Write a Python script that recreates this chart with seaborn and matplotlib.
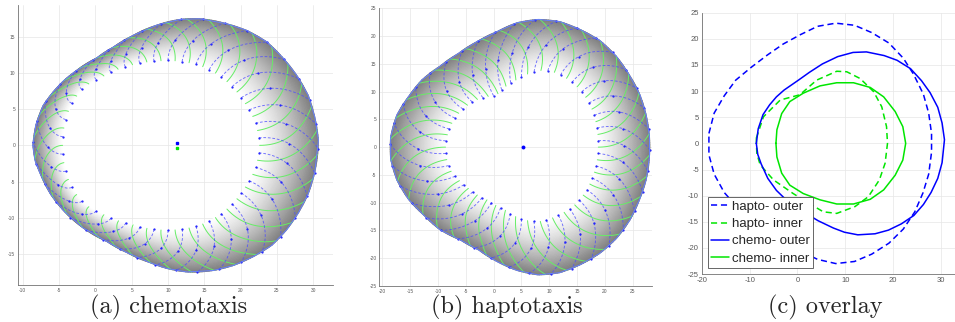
import numpy as np
import matplotlib
matplotlib.use("Agg")
import matplotlib.pyplot as plt
import seaborn as sns

# boundary curves (plot units)
chemo_outer_x = [-8.6, -8.2, -7.2, -5.8, -4.4, -2.8, 0.2, 2.5, 5.2, 8.4, 11.6, 14.4, 18.1, 20.8, 23.6,
                 25.9, 27.7, 29.3, 30.2, 30.7, 30.2, 29.3, 27.9, 26.3, 24.3, 21.7, 19.0, 16.2, 12.6,
                 9.8, 7.5, 4.3, 1.6, -1.7, -4.4, -6.2, -7.6, -8.3]
chemo_outer_y = [0.0, 2.8, 5.5, 7.4, 8.9, 10.2, 12.1, 13.6, 15.2, 16.6, 17.4, 17.5, 16.8, 15.9, 14.3,
                 12.0, 9.7, 6.9, 3.9, 0.7, -3.7, -6.7, -9.4, -11.7, -13.8, -15.4, -16.6, -17.3, -17.5,
                 -17.0, -16.2, -14.8, -13.3, -11.4, -9.0, -6.7, -3.9, -2.1]

chemo_inner_x = [-4.5, -4.3, -3.3, -1.6, 1.2, 4.7, 8.2, 11.7, 15.2, 18.0, 20.4, 22.0, 22.6, 22.0,
                 20.4, 18.0, 15.2, 11.7, 8.2, 4.7, 1.2, -1.6, -3.3, -4.3]
chemo_inner_y = [0.0, 2.6, 5.7, 8.0, 9.6, 11.0, 11.6, 11.6, 10.7, 8.9, 6.1, 3.2, 0.0, -3.2,
                 -6.1, -8.9, -10.7, -11.6, -11.6, -10.8, -9.6, -8.0, -5.7, -2.6]

hapto_outer_x = [-18.5, -17.4, -15.3, -12.9, -9.6, -6.3, -3.0, 0.6, 4.2, 8.0, 11.9, 15.5, 19.1, 22.1,
                 24.2, 26.3, 27.4, 28.0, 28.0, 27.4, 26.2, 24.5, 22.1, 19.1, 15.5, 11.9, 8.0, 4.2,
                 0.6, -2.7, -6.0, -9.6, -12.6, -15.3, -17.4, -18.5]
hapto_outer_y = [1.9, 5.8, 9.1, 12.1, 14.6, 16.9, 19.0, 20.8, 22.4, 23.0, 22.6, 21.2, 19.2, 16.3,
                 13.3, 9.4, 5.8, 1.9, -1.7, -5.9, -9.5, -13.1, -16.4, -19.1, -21.2, -22.6, -23.0, -22.2,
                 -20.6, -18.5, -16.7, -14.9, -12.2, -9.4, -5.9, -2.2]

hapto_inner_x = [-8.6, -7.1, -3.6, 0.5, 4.0, 8.2, 10.3, 13.1, 15.9, 17.6, 18.6, 18.8, 18.3, 17.1,
                 14.8, 12.0, 8.2, 5.4, 1.9, -0.9, -5.0, -7.8, -8.5]
hapto_inner_y = [1.0, 5.1, 8.3, 9.3, 12.1, 13.8, 13.7, 12.4, 9.9, 7.0, 3.2, 0.0, -3.8, -7.0,
                 -10.2, -12.1, -13.4, -13.1, -11.2, -9.6, -7.0, -4.1, -1.9]

# centre markers
chemo_center_x = [11.2, 11.2]
chemo_center_y = [0.3, -0.3]
hapto_center_x = [5.3]
hapto_center_y = [0.0]

captions = ["(a) chemotaxis", "(b) haptotaxis", "(c) overlay"]
legend_labels = ["hapto- outer", "hapto- inner", "chemo- outer", "chemo- inner"]

sns.set_style("whitegrid")
plt.rcParams['font.family'] = ['Liberation Sans', 'DejaVu Sans']
plt.rcParams['axes.unicode_minus'] = False

BLUE = (0.0, 0.0, 1.0)
GREEN = (0.0, 0.9, 0.0)


def profile(xs, ys, cx, cy):
    xs = np.asarray(xs)
    ys = np.asarray(ys)
    th = np.arctan2(ys - cy, xs - cx)
    r = np.hypot(xs - cx, ys - cy)
    o = np.argsort(th)
    return th[o], r[o]


def radius(theta, prof):
    return np.interp(theta, prof[0], prof[1], period=2 * np.pi)


def closed(xs, ys):
    return list(xs) + [xs[0]], list(ys) + [ys[0]]


def style_axes(ax, fs):
    for s in ["top", "right"]:
        ax.spines[s].set_visible(False)
    for s in ["left", "bottom"]:
        ax.spines[s].set_color("0.45")
        ax.spines[s].set_linewidth(0.6)
    ax.grid(True, color="0.9", lw=0.5)
    ax.tick_params(direction="in", length=2, width=0.5, colors="0.45", labelsize=fs,
                   labelcolor="0.35", pad=2)


def draw_cell(ax, outer, inner, center, n_lines=38, bend=0.27):
    cx, cy = center
    pout = profile(*outer, cx, cy)
    pin = profile(*inner, cx, cy)

    # grey shading of the ring, dark at the outer edge
    th = np.linspace(-np.pi, np.pi, 361)
    t = np.linspace(0, 1, 40)
    T, TH = np.meshgrid(t, th)
    rin = radius(TH, pin)
    rout = radius(TH, pout)
    R = rin + (rout - rin) * T
    C = 1 - 0.5 * T ** 1.3
    ax.pcolormesh(cx + R * np.cos(TH), cy + R * np.sin(TH), C, cmap="gray",
                  vmin=0, vmax=1, shading="gouraud", zorder=1, rasterized=True)

    # mesh lines across the ring
    tt = np.linspace(0, 1, 25)
    step = 2 * np.pi / n_lines
    for k in range(n_lines):
        for sign, offs in [(1, 0.0), (-1, 0.5)]:
            th0 = -np.pi + step * (k + offs)
            thc = th0 + sign * bend * tt ** 2
            ri = radius(thc, pin)
            ro = radius(thc, pout)
            r = ri + (ro - ri) * tt
            x = cx + r * np.cos(thc)
            y = cy + r * np.sin(thc)
            if sign > 0:
                ax.plot(x, y, color=(0.4, 0.93, 0.4), lw=0.7, zorder=3)
            else:
                ax.plot(x, y, color=(0.3, 0.3, 1.0), lw=0.65, alpha=0.8,
                        dashes=(3, 2), zorder=4)
                ax.plot(x[[0, 12, 24]], y[[0, 12, 24]], ".", color=(0.1, 0.1, 1.0),
                        ms=1.2, zorder=5)

    ox, oy = closed(*outer)
    sns.lineplot(x=ox, y=oy, sort=False, estimator=None, ax=ax,
                 color=(0.4, 0.5, 1.0), lw=0.7, zorder=6)


fig = plt.figure(figsize=(9.55, 3.22), dpi=100)
ax_a = fig.add_axes([0.01885, 0.1149, 0.3298, 0.8696])
ax_b = fig.add_axes([0.3972, 0.1118, 0.2852, 0.8624])
ax_c = fig.add_axes([0.7348, 0.149, 0.2652, 0.8115])

# (a) chemotaxis
style_axes(ax_a, 3.5)
draw_cell(ax_a, (chemo_outer_x, chemo_outer_y), (chemo_inner_x, chemo_inner_y), (10.0, 0.0))
ax_a.plot(chemo_center_x[0], chemo_center_y[0], "s", color=BLUE, ms=1.6, zorder=7)
ax_a.plot(chemo_center_x[1], chemo_center_y[1], "s", color=GREEN, ms=1.6, zorder=7)
ax_a.set_xlim(-10.65, 32.7)
ax_a.set_ylim(-19.3, 19.4)
ax_a.set_xticks(np.arange(-10, 31, 5))
ax_a.set_yticks(np.arange(-15, 16, 5))

# (b) haptotaxis
style_axes(ax_b, 3.5)
draw_cell(ax_b, (hapto_outer_x, hapto_outer_y), (hapto_inner_x, hapto_inner_y), (5.0, 0.0))
ax_b.plot(hapto_center_x, hapto_center_y, "o", color=BLUE, ms=2.2, mfc="none", mew=0.6, zorder=7)
ax_b.plot(hapto_center_x, hapto_center_y, "*", color=BLUE, ms=1.8, zorder=7)
ax_b.set_xlim(-20.54, 28.4)
ax_b.set_ylim(-25, 25)
ax_b.set_xticks(np.arange(-20, 26, 5))
ax_b.set_yticks(np.arange(-25, 26, 5))

# (c) overlay
style_axes(ax_c, 5.5)
curves = [
    (hapto_outer_x, hapto_outer_y, BLUE, (4, 2.5)),
    (hapto_inner_x, hapto_inner_y, GREEN, (4, 2.5)),
    (chemo_outer_x, chemo_outer_y, BLUE, None),
    (chemo_inner_x, chemo_inner_y, GREEN, None),
]
for (xs, ys, col, dash), lab in zip(curves, legend_labels):
    cx_, cy_ = closed(xs, ys)
    kw = {"dashes": dash} if dash else {}
    sns.lineplot(x=cx_, y=cy_, sort=False, estimator=None, ax=ax_c, color=col,
                 lw=1.1, label=lab, **kw)
ax_c.set_xlim(-20, 32.9)
ax_c.set_ylim(-25, 25)
ax_c.set_xticks(np.arange(-20, 31, 10))
ax_c.set_yticks(np.arange(-25, 26, 5))
leg = ax_c.legend(loc="lower left", bbox_to_anchor=(0.025, 0.023), borderaxespad=0,
                  fontsize=9.5, frameon=True, fancybox=False, handlelength=1.3,
                  labelspacing=0.38, borderpad=0.25, handletextpad=0.25)
leg.get_frame().set_edgecolor("0.3")
leg.get_frame().set_linewidth(0.6)
leg.get_frame().set_alpha(1)

for ax in (ax_a, ax_b, ax_c):
    ax.set_xlabel("")
    ax.set_ylabel("")

# sub-figure captions
for xpos, txt in zip([0.177, 0.531, 0.864], captions):
    fig.text(xpos, 0.045, txt, ha="center", va="center", family="cmr10", fontsize=17.5)

fig.savefig("out.png", dpi=100)
